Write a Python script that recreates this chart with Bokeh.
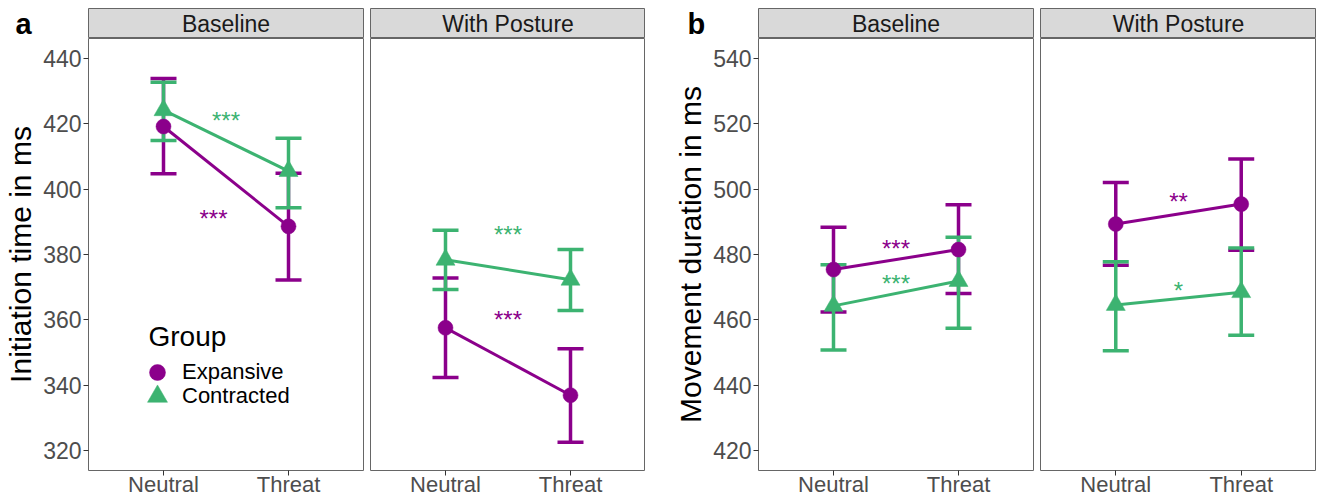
from bokeh.plotting import figure
from bokeh.models import (FactorRange, Range1d, FixedTicker, Whisker, TeeHead,
                          ColumnDataSource, Label, Legend, LegendItem)
from bokeh.layouts import row, column
from bokeh.embed import file_html
from bokeh.resources import INLINE
from bokeh.core.properties import value

# ---------------- data ----------------
conditions = ["Neutral", "Threat"]
facets = ["Baseline", "With Posture"]
groups = ["Expansive", "Contracted"]
panel_letters = ["a", "b"]
y_titles = ["Initiation time in ms", "Movement duration in ms"]

# (a) Initiation time in ms
init_base_exp_mean = [419.1, 388.6]
init_base_exp_hi = [433.8, 404.8]
init_base_exp_lo = [404.7, 372.2]
init_base_con_mean = [424.1, 405.5]
init_base_con_hi = [432.6, 415.5]
init_base_con_lo = [414.8, 394.3]

init_post_exp_mean = [357.6, 337.0]
init_post_exp_hi = [372.8, 351.2]
init_post_exp_lo = [342.4, 322.6]
init_post_con_mean = [378.4, 372.3]
init_post_con_hi = [387.4, 381.5]
init_post_con_lo = [369.3, 362.9]

# (b) Movement duration in ms
mov_base_exp_mean = [475.4, 481.5]
mov_base_exp_hi = [488.3, 495.2]
mov_base_exp_lo = [462.4, 468.1]
mov_base_con_mean = [464.3, 471.9]
mov_base_con_hi = [476.9, 485.3]
mov_base_con_lo = [450.8, 457.5]

mov_post_exp_mean = [489.3, 495.4]
mov_post_exp_hi = [502.0, 509.2]
mov_post_exp_lo = [476.7, 481.3]
mov_post_con_mean = [464.6, 468.5]
mov_post_con_hi = [477.8, 482.0]
mov_post_con_lo = [450.6, 455.3]

# significance marks: [Expansive, Contracted]
init_base_star_text = ["***", "***"]
init_base_star_x = [0.9, 1.0]
init_base_star_y = [391.6, 421.7]
init_post_star_text = ["***", "***"]
init_post_star_x = [1.0, 1.0]
init_post_star_y = [360.6, 386.6]
mov_base_star_text = ["***", "***"]
mov_base_star_x = [1.0, 1.0]
mov_base_star_y = [482.5, 471.6]
mov_post_star_text = ["**", "*"]
mov_post_star_x = [1.0, 1.0]
mov_post_star_y = [496.7, 469.5]

init_ticks = [320, 340, 360, 380, 400, 420, 440]
mov_ticks = [420, 440, 460, 480, 500, 520, 540]
init_limits = (314.0, 446.0)
mov_limits = (414.0, 546.0)

# ---------------- style ----------------
PURPLE = "#8B008B"
GREEN = "#3CB371"
FONT = "Liberation Sans"
BORDER = "#666666"
TOP_PAD = 8
STRIP_H = 30
PANEL_H = 432


def bare(p):
    p.xgrid.visible = False
    p.ygrid.visible = False
    p.background_fill_color = "white"
    p.border_fill_color = "white"


def letter_fig(letter, w, x):
    # same structure as the strip figures; the letter sits inside the frame
    p = figure(x_range=Range1d(0, w), y_range=Range1d(0, STRIP_H), frame_width=w,
               frame_height=STRIP_H, min_border_left=0, min_border_right=0,
               min_border_top=TOP_PAD, min_border_bottom=0, x_axis_location=None,
               y_axis_location=None, output_backend="svg", toolbar_location=None)
    bare(p)
    p.outline_line_color = None
    p.add_layout(Label(x=x, y=STRIP_H / 2, text=letter,
                       text_font=FONT, text_font_size="29px", text_font_style="bold",
                       text_color="black", text_baseline="middle"))
    return p


def strip_fig(text, fw, rb):
    p = figure(x_range=Range1d(0, 1), y_range=Range1d(0, 1), frame_width=fw,
               frame_height=STRIP_H, min_border_left=0, min_border_right=rb,
               min_border_top=TOP_PAD, min_border_bottom=0, x_axis_location=None,
               y_axis_location=None, output_backend="svg", toolbar_location=None)
    bare(p)
    p.background_fill_color = "#D9D9D9"
    p.outline_line_color = BORDER
    p.outline_line_width = 1
    p.add_layout(Label(x=0.5, y=0.5, text=text, text_align="center",
                       text_baseline="middle", text_font=FONT,
                       text_font_size="23px", text_color="#1A1A1A"))
    return p


def make_panel(exp, con, stars, limits, ticks, lb, rb, fw, ytitle):
    y_lo, y_hi = limits
    p = figure(x_range=FactorRange(factors=conditions, range_padding=0.1,
                                   range_padding_units="absolute"),
               y_range=Range1d(y_lo, y_hi),
               frame_width=fw, frame_height=PANEL_H,
               min_border_left=lb, min_border_right=rb,
               min_border_top=0, min_border_bottom=0,
               y_axis_location="left" if ytitle else None,
               output_backend="svg", toolbar_location=None)
    bare(p)
    p.outline_line_color = BORDER
    p.outline_line_width = 1

    ax = p.xaxis[0]
    ax.axis_line_color = None
    ax.major_tick_out = 5
    ax.major_tick_in = 0
    ax.major_tick_line_color = "#333333"
    ax.minor_tick_line_color = None
    ax.major_label_text_font_size = "22px"
    ax.major_label_text_color = "#4D4D4D"
    ax.major_label_text_font = FONT
    ax.major_label_standoff = -4

    if ytitle:
        ay = p.yaxis[0]
        ay.ticker = FixedTicker(ticks=ticks, minor_ticks=[])
        ay.axis_line_color = None
        ay.major_tick_out = 5
        ay.major_tick_in = 0
        ay.major_tick_line_color = "#333333"
        ay.minor_tick_line_color = None
        ay.major_label_text_font_size = "23px"
        ay.major_label_text_color = "#4D4D4D"
        ay.major_label_text_font = FONT
        ay.major_label_standoff = 2
        ay.axis_label = ytitle
        ay.axis_label_text_font = FONT
        ay.axis_label_text_font_size = "30px"
        ay.axis_label_text_font_style = "normal"
        ay.axis_label_text_color = "black"
        ay.axis_label_standoff = 3

    specs = [(exp, PURPLE, "circle", 15), (con, GREEN, "triangle", 19)]
    sources = []
    for (mean, hi, lo), col, _, _ in specs:
        src = ColumnDataSource(dict(x=conditions, mean=mean, hi=hi, lo=lo))
        sources.append(src)
        p.add_layout(Whisker(base="x", upper="hi", lower="lo", source=src,
                             line_color=col, line_width=3.5, level="underlay",
                             upper_head=TeeHead(size=26, line_color=col, line_width=3.5),
                             lower_head=TeeHead(size=26, line_color=col, line_width=3.5)))
    for src, (_, col, _, _) in zip(sources, specs):
        p.line(x="x", y="mean", source=src, line_color=col, line_width=3)
    renderers = []
    for src, (_, col, marker, size) in zip(sources, specs):
        r = p.scatter(x="x", y="mean", source=src, marker=marker, size=size,
                      fill_color=col, line_color=col, line_width=0.5)
        renderers.append(r)

    st_text, st_x, st_y = stars
    star_src = ColumnDataSource(dict(x=st_x, y=st_y, t=st_text, c=[PURPLE, GREEN]))
    p.text(x="x", y="y", text="t", source=star_src, text_color="c",
           text_font=value(FONT), text_font_size=value("24px"),
           text_align=value("center"), text_baseline=value("alphabetic"),
           y_offset=2)
    return p, renderers


m1, leg_r = make_panel((init_base_exp_mean, init_base_exp_hi, init_base_exp_lo),
                       (init_base_con_mean, init_base_con_hi, init_base_con_lo),
                       (init_base_star_text, init_base_star_x, init_base_star_y),
                       init_limits, init_ticks, 88, 7, 275, y_titles[0])
m2, _ = make_panel((init_post_exp_mean, init_post_exp_hi, init_post_exp_lo),
                   (init_post_con_mean, init_post_con_hi, init_post_con_lo),
                   (init_post_star_text, init_post_star_x, init_post_star_y),
                   init_limits, init_ticks, 0, 0, 275, None)
m3, _ = make_panel((mov_base_exp_mean, mov_base_exp_hi, mov_base_exp_lo),
                   (mov_base_con_mean, mov_base_con_hi, mov_base_con_lo),
                   (mov_base_star_text, mov_base_star_x, mov_base_star_y),
                   mov_limits, mov_ticks, 113, 7, 275, y_titles[1])
m4, _ = make_panel((mov_post_exp_mean, mov_post_exp_hi, mov_post_exp_lo),
                   (mov_post_con_mean, mov_post_con_hi, mov_post_con_lo),
                   (mov_post_star_text, mov_post_star_x, mov_post_star_y),
                   mov_limits, mov_ticks, 0, 0, 276, None)

# legend (title + two single-item legends so each key keeps its own size)
m1.add_layout(Label(x=60, y=134, x_units="screen", y_units="screen", text="Group",
                    text_font=FONT, text_font_size="28px", text_color="black",
                    text_baseline="middle"))
leg1 = Legend(items=[LegendItem(label=groups[0], renderers=[leg_r[0]])],
              location=(49, 78), glyph_width=40, glyph_height=40, label_standoff=5,
              label_text_font=FONT, label_text_font_size="22px",
              label_text_color="black", padding=0, margin=0,
              border_line_color=None, background_fill_alpha=0)
leg2 = Legend(items=[LegendItem(label=groups[1], renderers=[leg_r[1]])],
              location=(44, 49), glyph_width=50, glyph_height=50, label_standoff=0,
              label_text_font=FONT, label_text_font_size="22px",
              label_text_color="black", padding=0, margin=0,
              border_line_color=None, background_fill_alpha=0)
m1.add_layout(leg1)
m1.add_layout(leg2)

top = row(letter_fig(panel_letters[0], 88, 15), strip_fig(facets[0], 275, 7),
          strip_fig(facets[1], 275, 0), letter_fig(panel_letters[1], 113, 42),
          strip_fig(facets[0], 275, 7), strip_fig(facets[1], 276, 0))
bottom = row(m1, m2, m3, m4)
layout = column(top, bottom)
open("out.html", "w").write(file_html(layout, INLINE))
